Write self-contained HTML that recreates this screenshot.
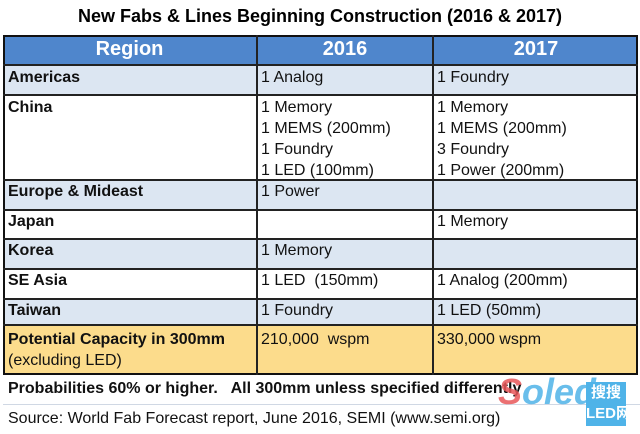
<!DOCTYPE html><html><head><style>
body{margin:0;width:640px;height:434px;background:#fff;position:relative;overflow:hidden;font-family:"Liberation Sans",Arial,sans-serif;}
.a{position:absolute;box-sizing:border-box;white-space:nowrap;}
.t{font-size:16px;color:#111;line-height:21px;}
.b{font-weight:bold;}
.h{color:#fff;font-weight:bold;font-size:20px;text-align:center;line-height:29px;}
</style></head><body>
<div class="a b" style="left:0;top:6px;width:640px;text-align:center;font-size:18px;">New Fabs &amp; Lines Beginning Construction (2016 &amp; 2017)</div>
<div class="a" style="left:3px;top:35px;width:635px;height:30px;background:#4f86cc"></div>
<div class="a" style="left:3px;top:65px;width:635px;height:30px;background:#dce6f2"></div>
<div class="a" style="left:3px;top:180px;width:635px;height:30px;background:#dce6f2"></div>
<div class="a" style="left:3px;top:239px;width:635px;height:30px;background:#dce6f2"></div>
<div class="a" style="left:3px;top:299px;width:635px;height:26px;background:#dce6f2"></div>
<div class="a" style="left:3px;top:325px;width:635px;height:50px;background:#fcdc8c"></div>
<div class="a" style="left:3px;top:35px;width:635px;height:340px;border:2px solid #111"></div>
<div class="a" style="left:256px;top:35px;width:2px;height:340px;background:#222"></div>
<div class="a" style="left:432px;top:35px;width:2px;height:340px;background:#222"></div>
<div class="a" style="left:3px;top:64px;width:635px;height:2px;background:#222"></div>
<div class="a" style="left:3px;top:94px;width:635px;height:2px;background:#222"></div>
<div class="a" style="left:3px;top:179px;width:635px;height:2px;background:#222"></div>
<div class="a" style="left:3px;top:209px;width:635px;height:2px;background:#222"></div>
<div class="a" style="left:3px;top:238px;width:635px;height:2px;background:#222"></div>
<div class="a" style="left:3px;top:268px;width:635px;height:2px;background:#222"></div>
<div class="a" style="left:3px;top:298px;width:635px;height:2px;background:#222"></div>
<div class="a" style="left:3px;top:324px;width:635px;height:2px;background:#222"></div>
<div class="a" style="left:3px;top:404px;width:637px;height:1px;background:#d0d8e4"></div>
<div class="a h" style="left:3px;top:35px;width:253px;">Region</div>
<div class="a h" style="left:258px;top:35px;width:174px;">2016</div>
<div class="a h" style="left:434px;top:35px;width:204px;">2017</div>
<div class="a t b" style="left:8px;top:67px">Americas</div>
<div class="a t" style="left:261px;top:67px">1 Analog</div>
<div class="a t" style="left:437px;top:67px">1 Foundry</div>
<div class="a t b" style="left:8px;top:97px">China</div>
<div class="a t" style="left:261px;top:97px">1 Memory<br>1 MEMS (200mm)<br>1 Foundry<br>1 LED (100mm)</div>
<div class="a t" style="left:437px;top:97px">1 Memory<br>1 MEMS (200mm)<br>3 Foundry<br>1 Power (200mm)</div>
<div class="a t b" style="left:8px;top:181px">Europe &amp; Mideast</div>
<div class="a t" style="left:261px;top:181px">1 Power</div>
<div class="a t b" style="left:8px;top:211px">Japan</div>
<div class="a t" style="left:437px;top:211px">1 Memory</div>
<div class="a t b" style="left:8px;top:240px">Korea</div>
<div class="a t" style="left:261px;top:240px">1 Memory</div>
<div class="a t b" style="left:8px;top:270px">SE Asia</div>
<div class="a t" style="left:261px;top:270px">1 LED&nbsp; (150mm)</div>
<div class="a t" style="left:437px;top:270px">1 Analog (200mm)</div>
<div class="a t b" style="left:8px;top:300px">Taiwan</div>
<div class="a t" style="left:261px;top:300px">1 Foundry</div>
<div class="a t" style="left:437px;top:300px">1 LED (50mm)</div>
<div class="a t" style="left:8px;top:329px"><b>Potential Capacity in 300mm</b><br>(excluding LED)</div>
<div class="a t" style="left:261px;top:329px">210,000&nbsp; wspm</div>
<div class="a t" style="left:437px;top:329px">330,000 wspm</div>
<div class="a t b" style="left:8px;top:378px">Probabilities 60% or higher.&nbsp;&nbsp; All 300mm unless specified differently</div>
<div class="a t" style="left:8px;top:408px">Source: World Fab Forecast report, June 2016, SEMI (www.semi.org)</div>
<div class="a" style="left:498px;top:372px;font-size:36px;font-weight:bold;font-style:italic;color:#4fb3e8;line-height:40px;opacity:0.85"><span style="color:#e8585a">S</span>oled</div>
<div class="a" style="left:586px;top:382px;width:40px;height:44px;background:#4fb3e8;color:#fff;font-size:15px;font-weight:bold;text-align:center;line-height:21px;font-family:'Liberation Sans','Noto Sans CJK SC',sans-serif">搜搜<br>LED网</div>
</body></html>
